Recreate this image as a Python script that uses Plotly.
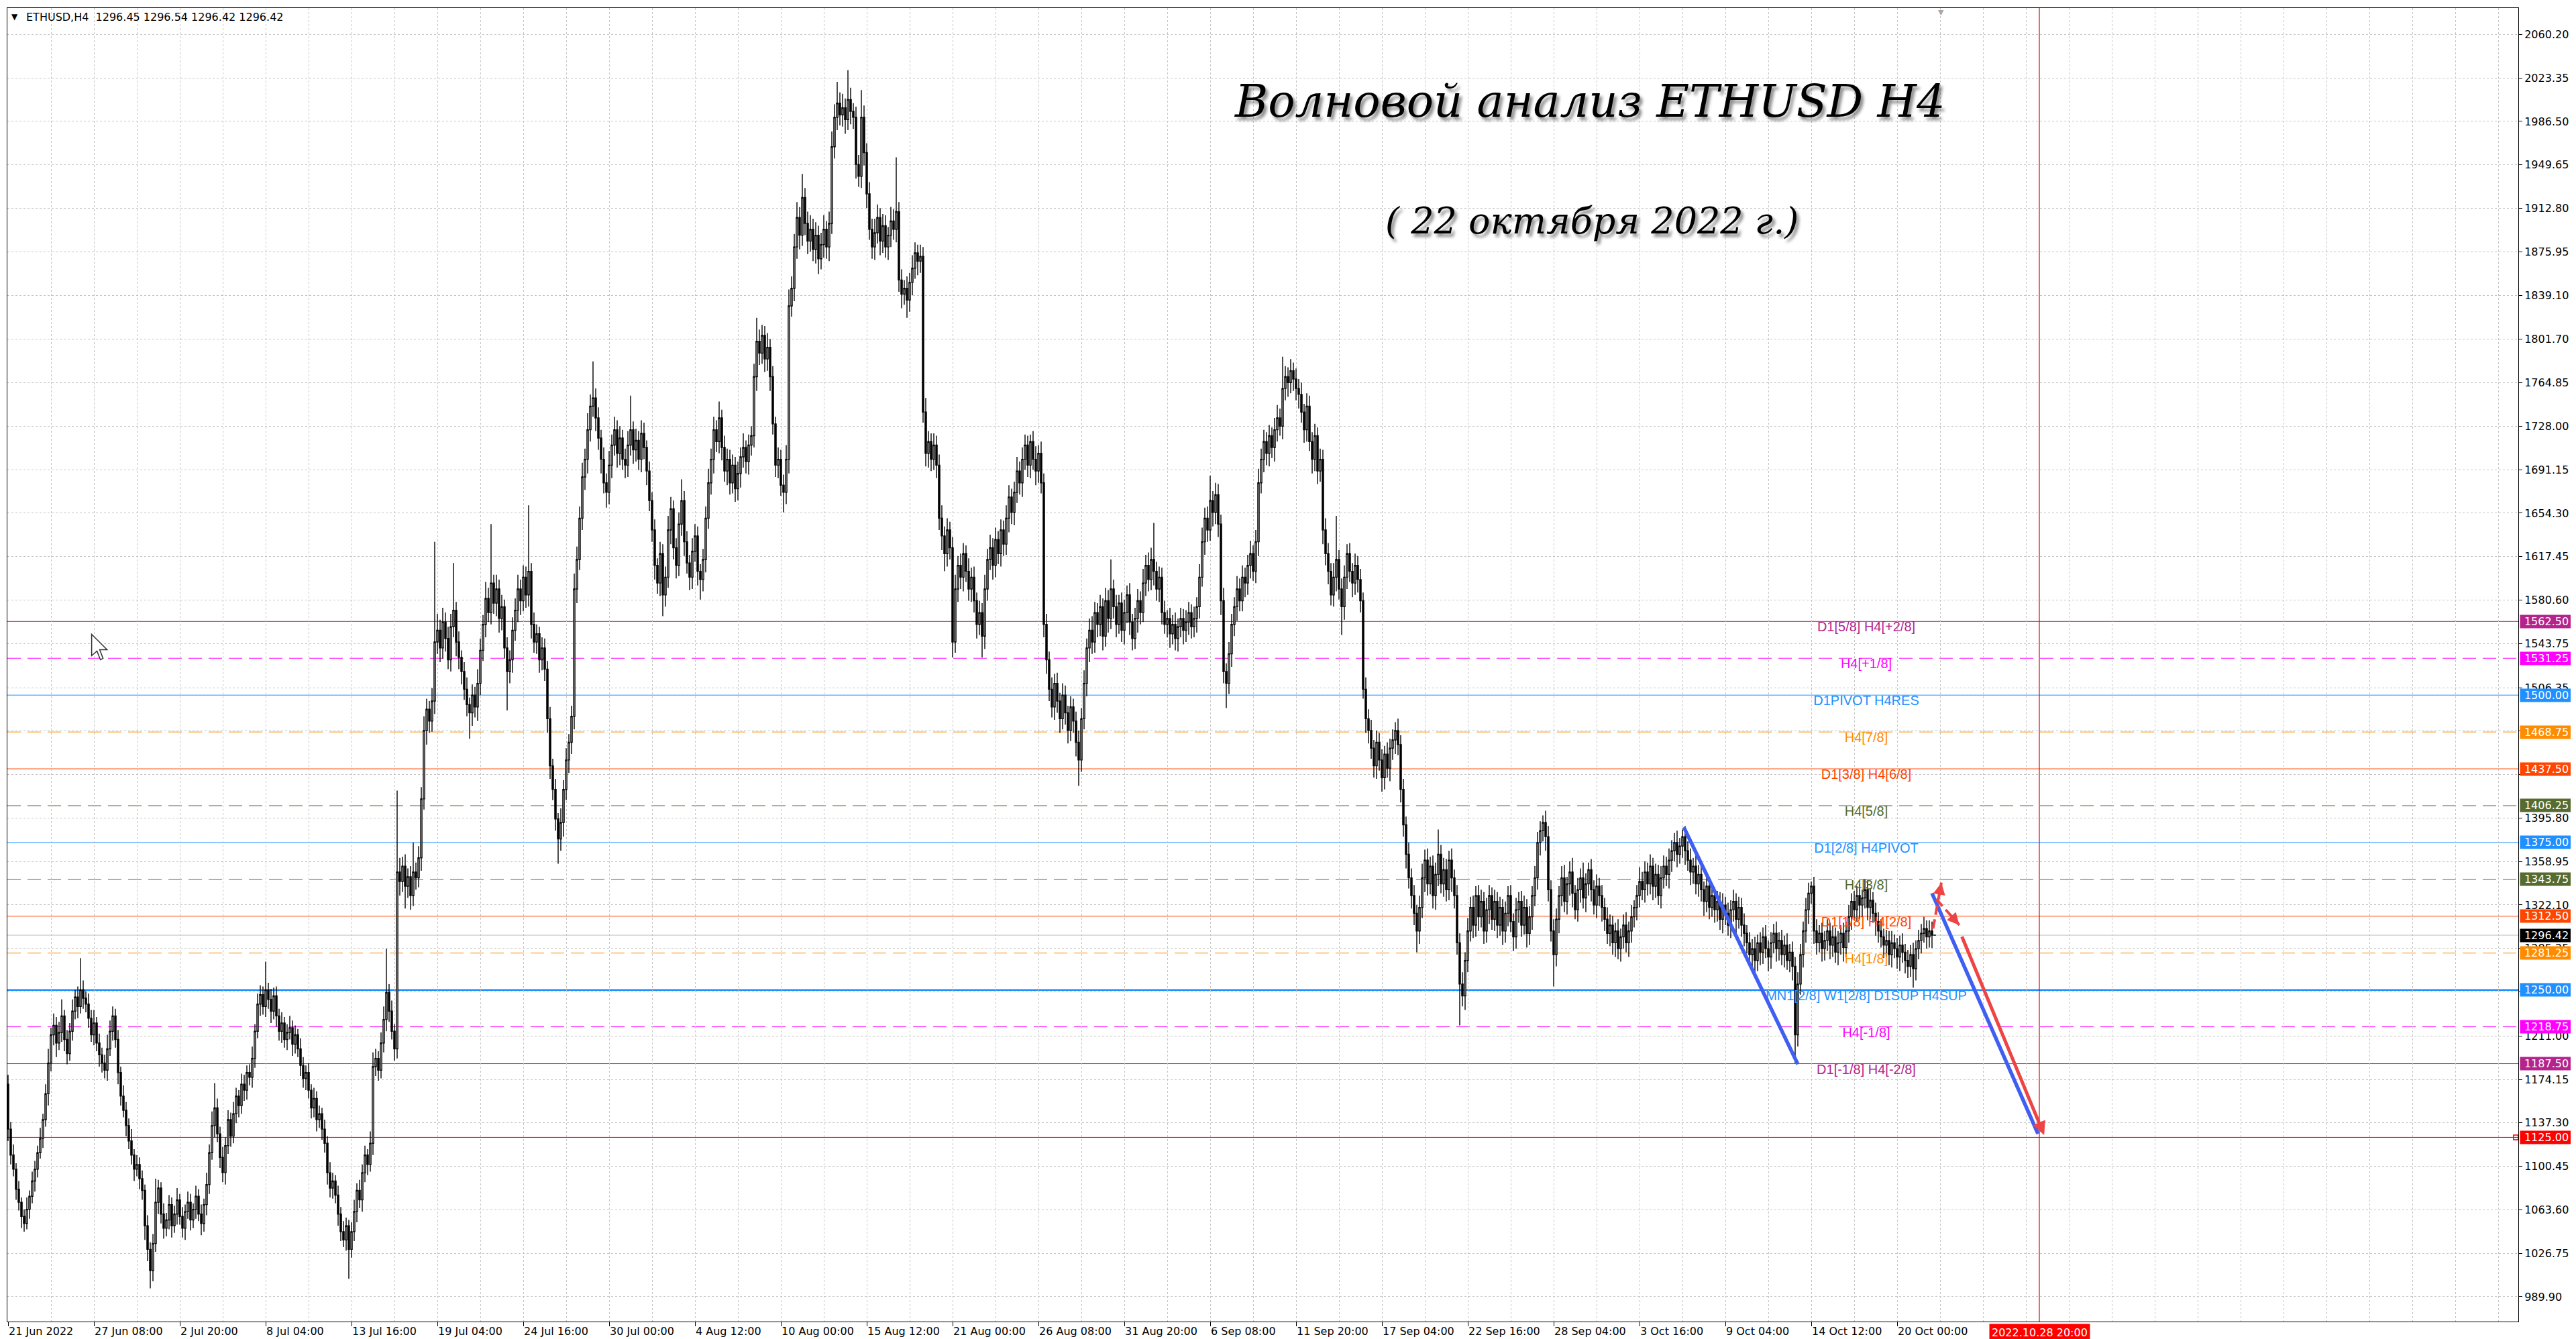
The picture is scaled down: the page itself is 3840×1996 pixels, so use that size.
import plotly.graph_objects as go

# ---------------- data ----------------
x_tick_labels = ["21 Jun 2022", "27 Jun 08:00", "2 Jul 20:00", "8 Jul 04:00", "13 Jul 16:00",
                 "19 Jul 04:00", "24 Jul 16:00", "30 Jul 00:00", "4 Aug 12:00", "10 Aug 00:00",
                 "15 Aug 12:00", "21 Aug 00:00", "26 Aug 08:00", "31 Aug 20:00", "6 Sep 08:00",
                 "11 Sep 20:00", "17 Sep 04:00", "22 Sep 16:00", "28 Sep 04:00", "3 Oct 16:00",
                 "9 Oct 04:00", "14 Oct 12:00", "20 Oct 00:00"]
bars_per_label = 32

y_tick_values = [2060.20, 2023.35, 1986.50, 1949.65, 1912.80, 1875.95, 1839.10, 1801.70,
                 1764.85, 1728.00, 1691.15, 1654.30, 1617.45, 1580.60, 1543.75, 1506.35,
                 1469.50, 1432.65, 1395.80, 1358.95, 1322.10, 1285.25, 1248.40, 1211.00,
                 1174.15, 1137.30, 1100.45, 1063.60, 1026.75, 989.90]
# tick labels fully covered by the level price boxes in the terminal
y_tick_hidden = [1432.65, 1248.40]

opens = [
    1170, 1132, 1110, 1098, 1081, 1070, 1058, 1052, 1064, 1075,
    1088, 1098, 1112, 1124, 1140, 1162, 1188, 1212, 1220, 1205,
    1214, 1228, 1208, 1196, 1215, 1232, 1244, 1236, 1250, 1243,
    1238, 1226, 1212, 1222, 1205, 1195, 1188, 1182, 1200, 1215,
    1228, 1208, 1180, 1160, 1148, 1135, 1122, 1110, 1098, 1102,
    1090, 1080, 1050, 1030, 1012, 1035, 1070, 1082, 1060, 1048,
    1055, 1068, 1050, 1060, 1072, 1058, 1048, 1062, 1070, 1055,
    1064, 1075, 1060, 1052, 1068, 1085, 1112, 1135, 1150, 1128,
    1108, 1095, 1118, 1140, 1126, 1145, 1160, 1152, 1170, 1165,
    1180, 1176, 1192, 1215, 1238, 1246, 1236, 1250, 1242, 1232,
    1245, 1228, 1215, 1222, 1208, 1214, 1218, 1204, 1212, 1200,
    1186, 1175, 1180, 1165, 1150, 1158, 1140, 1145, 1132, 1120,
    1095, 1082, 1088, 1076, 1060, 1045, 1038, 1050, 1030, 1045,
    1062, 1080, 1072, 1095, 1110, 1102, 1120, 1185, 1192, 1182,
    1205, 1225, 1248, 1232, 1215, 1200, 1350, 1342, 1355, 1338,
    1346, 1330, 1350, 1345, 1362, 1412, 1470, 1488, 1478, 1495,
    1545, 1555, 1540, 1562, 1548, 1530, 1558, 1572, 1545, 1532,
    1520, 1505, 1492, 1485, 1500, 1490, 1510, 1538, 1560, 1582,
    1570, 1595, 1578, 1590, 1565, 1575, 1540, 1520, 1530, 1555,
    1572, 1590, 1580, 1600, 1585, 1605, 1560, 1545, 1552, 1530,
    1540, 1522, 1480, 1440, 1420, 1395, 1378, 1392, 1420, 1445,
    1460, 1482, 1590, 1615, 1650, 1685, 1700, 1725, 1745, 1752,
    1735, 1718, 1700, 1680, 1672, 1695, 1712, 1725, 1705, 1718,
    1700, 1695, 1712, 1725, 1708, 1716, 1700, 1722, 1710, 1690,
    1665, 1640, 1610, 1595, 1620, 1585, 1600, 1640, 1658, 1625,
    1610, 1645, 1665, 1630, 1612, 1600, 1622, 1635, 1605, 1598,
    1615, 1650, 1680, 1700, 1725, 1715, 1735, 1710, 1690, 1700,
    1680, 1695, 1675, 1688, 1702, 1710, 1698, 1712, 1720, 1770,
    1800, 1790, 1805, 1785, 1795, 1770, 1730, 1695, 1700, 1678,
    1672, 1700, 1830, 1845, 1880, 1905, 1890, 1922, 1900, 1885,
    1895, 1878, 1890, 1870, 1882, 1895, 1880, 1900, 1965, 1990,
    2002, 1992, 1998, 1988, 2005, 1995, 1990, 1950, 1940, 1990,
    1960, 1925, 1895, 1880, 1892, 1905, 1885, 1898, 1880, 1890,
    1902, 1895, 1910, 1852, 1840, 1845, 1835, 1850, 1862, 1875,
    1868, 1872, 1740, 1705, 1715, 1700, 1712, 1695, 1650, 1635,
    1620, 1640, 1625, 1545, 1590, 1610, 1600, 1620, 1605, 1590,
    1600, 1580, 1560, 1570, 1550, 1590, 1615, 1625, 1610, 1632,
    1620, 1640, 1628, 1650, 1668, 1655, 1672, 1690, 1680, 1700,
    1712, 1695, 1715, 1700, 1690, 1705, 1680, 1560, 1530, 1505,
    1490, 1510, 1495, 1480, 1500, 1485, 1470, 1490, 1478, 1460,
    1445, 1480, 1510, 1540, 1555, 1545, 1570, 1560, 1575, 1550,
    1580, 1565, 1590, 1575, 1560, 1578, 1555, 1570, 1585, 1562,
    1548, 1565, 1580, 1570, 1595, 1610, 1598, 1615, 1605, 1590,
    1600, 1570, 1560, 1565, 1552, 1560, 1548, 1558, 1565, 1555,
    1562, 1570, 1558, 1565, 1575, 1600, 1630, 1650, 1640, 1665,
    1655, 1670, 1645, 1580, 1520, 1510, 1535, 1560, 1575, 1590,
    1580, 1600, 1595, 1610, 1620, 1605, 1630, 1680, 1700, 1715,
    1705, 1720, 1710, 1725, 1735, 1728, 1760, 1770, 1765, 1775,
    1768, 1760, 1755, 1740, 1725, 1745, 1715, 1700, 1720, 1690,
    1700, 1640, 1620, 1605, 1585, 1600, 1615, 1590, 1575, 1600,
    1620, 1605, 1595, 1610, 1598, 1580, 1505, 1480, 1470, 1455,
    1440, 1460, 1445, 1430, 1450, 1438, 1455, 1462, 1470, 1458,
    1420, 1390, 1365, 1345, 1330, 1315, 1300, 1320, 1345, 1360,
    1340, 1355, 1330, 1348, 1365, 1340, 1352, 1335, 1360, 1345,
    1330, 1290, 1255, 1245, 1275, 1300, 1320, 1305, 1330, 1312,
    1325, 1300, 1318, 1330, 1310, 1325, 1305, 1320, 1300, 1315,
    1330, 1308, 1295, 1318, 1325, 1305, 1320, 1298, 1312, 1330,
    1345, 1375, 1385, 1392, 1380, 1335, 1300, 1280, 1310, 1330,
    1345, 1325, 1340, 1350, 1332, 1318, 1335, 1345, 1328, 1340,
    1352, 1335, 1322, 1338, 1330, 1320, 1310, 1298, 1305, 1290,
    1300, 1285, 1295, 1305, 1290, 1300, 1312, 1320, 1330, 1342,
    1335, 1350, 1340, 1355, 1338, 1348, 1330, 1345, 1355, 1348,
    1360, 1368, 1375, 1365, 1372, 1380, 1368, 1360, 1350, 1355,
    1340, 1348, 1335, 1325, 1338, 1320, 1330, 1318, 1325, 1310,
    1322, 1315, 1305, 1318, 1325, 1310, 1320, 1305, 1298, 1290,
    1280, 1285, 1275, 1290, 1282, 1295, 1285, 1278, 1290, 1298,
    1285, 1292, 1280, 1288, 1275, 1282, 1270, 1212, 1255, 1280,
    1300, 1318, 1332, 1338, 1300, 1290, 1298, 1285, 1292, 1300,
    1288, 1295, 1282, 1290, 1298, 1286, 1300, 1312, 1325, 1318,
    1330, 1322, 1328, 1335, 1320, 1326, 1315, 1308, 1300, 1295,
    1288, 1292, 1280, 1290, 1285, 1278, 1288, 1282, 1275, 1270,
    1280, 1268, 1285, 1292, 1298, 1302, 1295, 1300, 1296.45,
]

closes = [
    1132, 1110, 1098, 1081, 1070, 1058, 1052, 1064, 1075, 1088,
    1098, 1112, 1124, 1140, 1162, 1188, 1212, 1220, 1205, 1214,
    1228, 1208, 1196, 1215, 1232, 1244, 1236, 1250, 1243, 1238,
    1226, 1212, 1222, 1205, 1195, 1188, 1182, 1200, 1215, 1228,
    1208, 1180, 1160, 1148, 1135, 1122, 1110, 1098, 1102, 1090,
    1080, 1050, 1030, 1012, 1035, 1070, 1082, 1060, 1048, 1055,
    1068, 1050, 1060, 1072, 1058, 1048, 1062, 1070, 1055, 1064,
    1075, 1060, 1052, 1068, 1085, 1112, 1135, 1150, 1128, 1108,
    1095, 1118, 1140, 1126, 1145, 1160, 1152, 1170, 1165, 1180,
    1176, 1192, 1215, 1238, 1246, 1236, 1250, 1242, 1232, 1245,
    1228, 1215, 1222, 1208, 1214, 1218, 1204, 1212, 1200, 1186,
    1175, 1180, 1165, 1150, 1158, 1140, 1145, 1132, 1120, 1095,
    1082, 1088, 1076, 1060, 1045, 1038, 1050, 1030, 1045, 1062,
    1080, 1072, 1095, 1110, 1102, 1120, 1185, 1192, 1182, 1205,
    1225, 1248, 1232, 1215, 1200, 1350, 1342, 1355, 1338, 1346,
    1330, 1350, 1345, 1362, 1412, 1470, 1488, 1478, 1495, 1545,
    1555, 1540, 1562, 1548, 1530, 1558, 1572, 1545, 1532, 1520,
    1505, 1492, 1485, 1500, 1490, 1510, 1538, 1560, 1582, 1570,
    1595, 1578, 1590, 1565, 1575, 1540, 1520, 1530, 1555, 1572,
    1590, 1580, 1600, 1585, 1605, 1560, 1545, 1552, 1530, 1540,
    1522, 1480, 1440, 1420, 1395, 1378, 1392, 1420, 1445, 1460,
    1482, 1590, 1615, 1650, 1685, 1700, 1725, 1745, 1752, 1735,
    1718, 1700, 1680, 1672, 1695, 1712, 1725, 1705, 1718, 1700,
    1695, 1712, 1725, 1708, 1716, 1700, 1722, 1710, 1690, 1665,
    1640, 1610, 1595, 1620, 1585, 1600, 1640, 1658, 1625, 1610,
    1645, 1665, 1630, 1612, 1600, 1622, 1635, 1605, 1598, 1615,
    1650, 1680, 1700, 1725, 1715, 1735, 1710, 1690, 1700, 1680,
    1695, 1675, 1688, 1702, 1710, 1698, 1712, 1720, 1770, 1800,
    1790, 1805, 1785, 1795, 1770, 1730, 1695, 1700, 1678, 1672,
    1700, 1830, 1845, 1880, 1905, 1890, 1922, 1900, 1885, 1895,
    1878, 1890, 1870, 1882, 1895, 1880, 1900, 1965, 1990, 2002,
    1992, 1998, 1988, 2005, 1995, 1990, 1950, 1940, 1990, 1960,
    1925, 1895, 1880, 1892, 1905, 1885, 1898, 1880, 1890, 1902,
    1895, 1910, 1852, 1840, 1845, 1835, 1850, 1862, 1875, 1868,
    1872, 1740, 1705, 1715, 1700, 1712, 1695, 1650, 1635, 1620,
    1640, 1625, 1545, 1590, 1610, 1600, 1620, 1605, 1590, 1600,
    1580, 1560, 1570, 1550, 1590, 1615, 1625, 1610, 1632, 1620,
    1640, 1628, 1650, 1668, 1655, 1672, 1690, 1680, 1700, 1712,
    1695, 1715, 1700, 1690, 1705, 1680, 1560, 1530, 1505, 1490,
    1510, 1495, 1480, 1500, 1485, 1470, 1490, 1478, 1460, 1445,
    1480, 1510, 1540, 1555, 1545, 1570, 1560, 1575, 1550, 1580,
    1565, 1590, 1575, 1560, 1578, 1555, 1570, 1585, 1562, 1548,
    1565, 1580, 1570, 1595, 1610, 1598, 1615, 1605, 1590, 1600,
    1570, 1560, 1565, 1552, 1560, 1548, 1558, 1565, 1555, 1562,
    1570, 1558, 1565, 1575, 1600, 1630, 1650, 1640, 1665, 1655,
    1670, 1645, 1580, 1520, 1510, 1535, 1560, 1575, 1590, 1580,
    1600, 1595, 1610, 1620, 1605, 1630, 1680, 1700, 1715, 1705,
    1720, 1710, 1725, 1735, 1728, 1760, 1770, 1765, 1775, 1768,
    1760, 1755, 1740, 1725, 1745, 1715, 1700, 1720, 1690, 1700,
    1640, 1620, 1605, 1585, 1600, 1615, 1590, 1575, 1600, 1620,
    1605, 1595, 1610, 1598, 1580, 1505, 1480, 1470, 1455, 1440,
    1460, 1445, 1430, 1450, 1438, 1455, 1462, 1470, 1458, 1420,
    1390, 1365, 1345, 1330, 1315, 1300, 1320, 1345, 1360, 1340,
    1355, 1330, 1348, 1365, 1340, 1352, 1335, 1360, 1345, 1330,
    1290, 1255, 1245, 1275, 1300, 1320, 1305, 1330, 1312, 1325,
    1300, 1318, 1330, 1310, 1325, 1305, 1320, 1300, 1315, 1330,
    1308, 1295, 1318, 1325, 1305, 1320, 1298, 1312, 1330, 1345,
    1375, 1385, 1392, 1380, 1335, 1300, 1280, 1310, 1330, 1345,
    1325, 1340, 1350, 1332, 1318, 1335, 1345, 1328, 1340, 1352,
    1335, 1322, 1338, 1330, 1320, 1310, 1298, 1305, 1290, 1300,
    1285, 1295, 1305, 1290, 1300, 1312, 1320, 1330, 1342, 1335,
    1350, 1340, 1355, 1338, 1348, 1330, 1345, 1355, 1348, 1360,
    1368, 1375, 1365, 1372, 1380, 1368, 1360, 1350, 1355, 1340,
    1348, 1335, 1325, 1338, 1320, 1330, 1318, 1325, 1310, 1322,
    1315, 1305, 1318, 1325, 1310, 1320, 1305, 1298, 1290, 1280,
    1285, 1275, 1290, 1282, 1295, 1285, 1278, 1290, 1298, 1285,
    1292, 1280, 1288, 1275, 1282, 1270, 1212, 1255, 1280, 1300,
    1318, 1332, 1338, 1300, 1290, 1298, 1285, 1292, 1300, 1288,
    1295, 1282, 1290, 1298, 1286, 1300, 1312, 1325, 1318, 1330,
    1322, 1328, 1335, 1320, 1326, 1315, 1308, 1300, 1295, 1288,
    1292, 1280, 1290, 1285, 1278, 1288, 1282, 1275, 1270, 1280,
    1268, 1285, 1292, 1298, 1302, 1295, 1300, 1296.45, 1296.42,
]

# wick lengths above the body / below the body (price units)
upper_wicks = [
    8, 6, 9, 5, 7, 4, 6, 10, 5, 8,
    7, 6, 9, 5, 8, 12, 6, 10, 7, 9,
    14, 5, 8, 7, 10, 6, 9, 27, 8, 6,
    9, 7, 11, 5, 8, 6, 7, 12, 9, 8,
    6, 8, 5, 9, 7, 6, 10, 5, 8, 6,
    7, 5, 9, 6, 8, 20, 7, 5, 9, 6,
    8, 6, 7, 10, 5, 8, 6, 9, 7, 5,
    9, 6, 8, 5, 10, 7, 12, 21, 8, 6,
    9, 7, 8, 6, 10, 7, 5, 9, 8, 6,
    7, 10, 6, 9, 8, 7, 24, 6, 9, 7,
    8, 6, 9, 5, 7, 10, 6, 8, 5, 9,
    7, 6, 8, 5, 9, 6, 7, 5, 8, 6,
    9, 7, 5, 8, 6, 9, 7, 5, 8, 10,
    6, 9, 7, 8, 5, 10, 12, 8, 6, 9,
    11, 37, 7, 9, 6, 69, 12, 8, 10, 7,
    9, 25, 8, 10, 10, 12, 9, 7, 11, 85,
    14, 9, 12, 8, 10, 11, 40, 7, 9, 6,
    8, 10, 6, 9, 7, 12, 10, 8, 14, 9,
    50, 7, 12, 8, 10, 6, 9, 8, 11, 10,
    12, 8, 10, 9, 56, 7, 10, 8, 6, 9,
    8, 7, 10, 6, 9, 5, 12, 8, 10, 7,
    9, 13, 11, 10, 12, 9, 14, 10, 31, 8,
    9, 7, 10, 8, 12, 9, 11, 8, 10, 7,
    9, 12, 29, 7, 10, 8, 11, 9, 6, 8,
    7, 9, 6, 10, 8, 9, 12, 10, 7, 8,
    10, 18, 8, 9, 7, 11, 10, 8, 6, 9,
    10, 12, 9, 11, 8, 14, 7, 10, 9, 8,
    9, 7, 10, 8, 12, 6, 9, 8, 11, 20,
    10, 9, 8, 12, 7, 9, 6, 10, 8, 9,
    12, 14, 10, 11, 13, 9, 20, 8, 10, 12,
    9, 11, 8, 10, 12, 7, 10, 13, 11, 18,
    9, 12, 8, 25, 10, 7, 9, 8, 23, 10,
    8, 10, 9, 12, 11, 8, 10, 9, 7, 12,
    10, 46, 8, 9, 7, 10, 8, 11, 9, 7,
    10, 8, 12, 9, 7, 10, 8, 9, 11, 8,
    10, 7, 9, 12, 8, 10, 9, 7, 11, 8,
    9, 7, 10, 8, 12, 9, 11, 8, 10, 7,
    9, 8, 11, 10, 7, 9, 12, 8, 10, 9,
    8, 6, 9, 11, 7, 10, 8, 9, 7, 10,
    8, 9, 7, 10, 8, 6, 9, 7, 8, 10,
    9, 11, 8, 10, 12, 9, 8, 10, 7, 11,
    9, 25, 8, 10, 7, 9, 11, 8, 10, 7,
    9, 10, 8, 12, 9, 11, 10, 31, 8, 9,
    8, 10, 7, 9, 8, 10, 7, 9, 8, 10,
    9, 7, 10, 8, 11, 12, 9, 10, 21, 8,
    10, 9, 8, 11, 7, 10, 9, 8, 11, 9,
    10, 8, 9, 11, 7, 10, 12, 9, 10, 8,
    9, 7, 10, 11, 8, 27, 9, 8, 10, 7,
    9, 8, 10, 7, 11, 9, 8, 10, 7, 9,
    8, 10, 9, 7, 12, 37, 8, 9, 10, 8,
    9, 7, 10, 8, 9, 7, 10, 8, 9, 7,
    10, 8, 9, 7, 10, 8, 9, 7, 10, 8,
    9, 7, 10, 8, 9, 7, 10, 12, 9, 10,
    8, 9, 10, 21, 8, 10, 9, 8, 10, 7,
    9, 8, 10, 7, 11, 9, 10, 8, 9, 10,
    8, 10, 9, 7, 10, 8, 9, 7, 10, 8,
    9, 7, 10, 8, 9, 10, 7, 9, 8, 10,
    9, 8, 6, 10, 9, 8, 10, 9, 8, 10,
    11, 6, 9, 12, 7, 10, 8, 13, 9, 6,
    9, 8, 10, 7, 9, 8, 10, 9, 8, 7,
    10, 7, 9, 11, 8, 10, 6, 9, 12, 8,
    9, 8, 10, 7, 9, 8, 10, 9, 8, 10,
    9, 8, 10, 7, 6, 9, 8, 10, 7, 9,
    8, 10, 7, 9, 8, 10, 7, 9, 8, 10,
    7, 9, 8, 10, 7, 9, 8, 10, 7, 9,
    8, 10, 7, 9, 8, 10, 7, 9, 8, 10,
    7, 9, 8, 10, 7, 9, 8, 10, 9, 8,
    10, 9, 4, 8, 10, 7, 9, 8, 10, 7,
    9, 8, 10, 7, 9, 8, 10, 7, 9, 8,
    10, 7, 9, 8, 10, 7, 9, 8, 10, 7,
    9, 8, 10, 7, 9, 8, 10, 7, 9, 8,
    10, 7, 9, 8, 10, 7, 9, 8, 0.09,
]

lower_wicks = [
    10, 8, 6, 9, 7, 10, 7, 5, 8, 6,
    9, 7, 5, 8, 6, 10, 7, 9, 12, 6,
    8, 10, 9, 6, 8, 7, 10, 6, 9, 7,
    8, 6, 9, 7, 10, 8, 7, 9, 6, 8,
    7, 10, 8, 6, 9, 7, 8, 10, 6, 9,
    8, 12, 10, 15, 9, 7, 10, 8, 9, 7,
    8, 10, 6, 9, 7, 8, 10, 6, 9, 7,
    8, 6, 10, 7, 9, 8, 6, 10, 7, 9,
    8, 10, 7, 9, 6, 8, 10, 7, 9, 8,
    7, 9, 8, 6, 10, 7, 9, 8, 10, 7,
    9, 8, 10, 7, 9, 6, 10, 8, 7, 9,
    8, 10, 7, 9, 8, 10, 7, 9, 8, 10,
    8, 9, 7, 10, 8, 6, 9, 25, 7, 8,
    9, 7, 10, 8, 9, 6, 10, 8, 9, 7,
    8, 10, 9, 7, 10, 8, 12, 9, 19, 10,
    12, 9, 10, 8, 11, 9, 12, 10, 9, 11,
    10, 12, 9, 11, 8, 10, 9, 12, 10, 11,
    9, 10, 22, 11, 9, 12, 10, 9, 11, 8,
    10, 9, 11, 12, 10, 9, 33, 10, 11, 9,
    10, 12, 9, 11, 10, 12, 9, 10, 11, 9,
    10, 12, 11, 9, 10, 21, 10, 12, 9, 11,
    10, 11, 12, 9, 10, 11, 12, 10, 9, 11,
    10, 12, 9, 13, 10, 11, 9, 12, 10, 9,
    11, 10, 9, 12, 10, 9, 11, 10, 12, 9,
    10, 12, 9, 11, 18, 10, 9, 12, 10, 11,
    9, 10, 12, 9, 11, 10, 9, 12, 17, 10,
    11, 9, 10, 12, 9, 10, 11, 9, 12, 10,
    9, 11, 10, 12, 9, 10, 11, 9, 10, 12,
    10, 9, 11, 10, 12, 9, 10, 11, 9, 17,
    10, 12, 9, 11, 10, 12, 9, 10, 11, 9,
    10, 12, 13, 9, 11, 10, 12, 9, 10, 11,
    9, 10, 12, 9, 11, 10, 12, 9, 10, 11,
    12, 9, 10, 11, 9, 12, 10, 9, 11, 10,
    9, 11, 10, 12, 9, 15, 10, 11, 9, 12,
    10, 9, 11, 12, 10, 9, 11, 10, 12, 15,
    11, 10, 13, 9, 11, 10, 12, 9, 10, 11,
    10, 12, 9, 18, 11, 10, 9, 12, 10, 9,
    11, 10, 9, 12, 10, 11, 9, 10, 12, 9,
    10, 11, 9, 12, 10, 9, 11, 12, 10, 9,
    11, 10, 12, 9, 10, 11, 9, 10, 12, 22,
    10, 9, 11, 12, 10, 9, 11, 10, 12, 9,
    12, 9, 10, 11, 8, 10, 12, 9, 11, 10,
    9, 12, 10, 8, 11, 10, 9, 12, 10, 11,
    10, 8, 11, 12, 9, 10, 11, 9, 12, 10,
    11, 10, 9, 12, 10, 8, 11, 10, 9, 12,
    10, 11, 12, 10, 21, 9, 11, 10, 12, 9,
    9, 12, 10, 11, 8, 10, 12, 9, 11, 10,
    11, 9, 12, 10, 8, 11, 10, 12, 9, 10,
    10, 12, 9, 11, 10, 8, 12, 10, 11, 9,
    12, 10, 11, 9, 10, 12, 9, 24, 11, 10,
    9, 12, 10, 11, 10, 8, 12, 11, 9, 10,
    11, 9, 12, 10, 8, 11, 10, 12, 9, 11,
    10, 12, 9, 11, 10, 18, 11, 9, 12, 10,
    9, 11, 12, 10, 8, 11, 10, 9, 12, 11,
    10, 35, 9, 12, 10, 9, 11, 10, 12, 9,
    11, 10, 12, 9, 10, 11, 9, 12, 10, 11,
    9, 12, 10, 11, 10, 8, 12, 10, 11, 9,
    10, 11, 9, 12, 10, 9, 27, 10, 12, 9,
    9, 11, 10, 12, 8, 10, 11, 9, 12, 10,
    10, 8, 11, 9, 12, 10, 9, 11, 10, 12,
    9, 11, 10, 8, 12, 10, 9, 11, 10, 9,
    11, 10, 9, 12, 10, 8, 11, 9, 10, 12,
    10, 9, 11, 8, 10, 12, 9, 11, 10, 9,
    11, 10, 12, 9, 10, 8, 11, 10, 9, 12,
    10, 9, 11, 10, 12, 8, 10, 11, 9, 10,
    12, 10, 9, 11, 10, 8, 12, 10, 9, 11,
    10, 9, 11, 8, 10, 12, 24, 10, 9, 11,
    10, 12, 9, 11, 10, 8, 11, 10, 9, 12,
    10, 9, 11, 10, 12, 8, 10, 11, 9, 10,
    12, 10, 9, 11, 10, 8, 12, 10, 9, 11,
    10, 9, 11, 8, 10, 12, 9, 11, 10, 9,
    16, 10, 9, 11, 8, 10, 9, 11, 0,
]

header_symbol = "ETHUSD,H4"
header_ohlc = "1296.45 1296.54 1296.42 1296.42"

murrey_levels = [1562.50, 1531.25, 1500.00, 1468.75, 1437.50, 1406.25, 1375.00,
                 1343.75, 1312.50, 1281.25, 1250.00, 1218.75, 1187.50]
murrey_names = ["D1[5/8] H4[+2/8]", "H4[+1/8]", "D1PIVOT H4RES", "H4[7/8]",
                "D1[3/8] H4[6/8]", "H4[5/8]", "D1[2/8] H4PIVOT", "H4[3/8]",
                "D1[1/8] H4[2/8]", "H4[1/8]", "MN1[2/8] W1[2/8] D1SUP H4SUP",
                "H4[-1/8]", "D1[-1/8] H4[-2/8]"]
target_level = 1125.00
current_price = 1296.42

# wave markup (bar index, price)
wave1_x, wave1_y = [624.5, 667.0], [1388.0, 1187.0]
wave2_x, wave2_y = [717.0, 756.5], [1332.0, 1128.0]
forecast_x, forecast_y = [728.0, 758.8], [1296.0, 1127.0]
corr_up_x, corr_up_y = [717.4, 720.5], [1302.0, 1341.0]
corr_dn_x, corr_dn_y = [718.6, 727.2], [1327.0, 1305.0]
vline_bar = 757
vline_label = "2022.10.28 20:00"

title_text = "Волновой анализ ETHUSD H4"
subtitle_text = "( 22 октября 2022 г.)"

# ---------------- styling ----------------
W, H = 3840, 1996
ML, MR, MT, MB = 3, 94, 4, 34
X_RANGE = [-0.25, 935.5]
Y_RANGE = [968.8, 2082.6]
LABEL_X = 692.5
AX_FONT = dict(family="DejaVu Sans", size=16, color="black")
GRID = dict(gridcolor="#C4C4C4", griddash="3px,3px", gridwidth=1)

PURPLE, MAGENTA, BLUE = "#B5248D", "#FF00FF", "#1E90FF"
ORANGE, ORED, OLIVE = "#FF8C00", "#FF4500", "#556B2F"
murrey_colors = [PURPLE, MAGENTA, BLUE, ORANGE, ORED, OLIVE, BLUE,
                 OLIVE, ORED, ORANGE, BLUE, MAGENTA, PURPLE]
murrey_dash = ["solid", "20px,10px", "solid", "20px,10px", "solid", "20px,10px", "solid",
               "20px,10px", "solid", "20px,10px", "solid", "20px,10px", "solid"]
murrey_width = [1, 1, 1, 1, 1, 1, 1, 1, 1, 1, 2.5, 1, 1]

n = min(len(opens), len(closes), len(upper_wicks), len(lower_wicks))
opens, closes = opens[:n], closes[:n]
bars = list(range(n))
highs = [max(o, c) + w for o, c, w in zip(opens, closes, upper_wicks[:n])]
lows = [min(o, c) - w for o, c, w in zip(opens, closes, lower_wicks[:n])]

fig = go.Figure()

# level captions (drawn under the candles, as in the terminal)
fig.add_trace(go.Scatter(
    x=[LABEL_X] * len(murrey_levels), y=murrey_levels, mode="text",
    text=murrey_names, textposition="bottom center",
    textfont=dict(family="Liberation Sans, Arial", size=20, color=murrey_colors),
    showlegend=False, hoverinfo="skip", cliponaxis=False))

fig.add_trace(go.Scatter(
    x=[X_RANGE[1] - 0.9], y=[target_level], mode="markers",
    marker=dict(symbol="square-open", size=7, color="#E00000", line=dict(width=1.5)),
    showlegend=False, hoverinfo="skip", cliponaxis=False))

fig.add_trace(go.Candlestick(
    x=bars, open=opens, high=highs, low=lows, close=closes,
    increasing=dict(line=dict(color="black", width=1.4), fillcolor="white"),
    decreasing=dict(line=dict(color="black", width=1.4), fillcolor="black"),
    whiskerwidth=0, showlegend=False, hoverinfo="skip"))

shapes = []
for lvl, col, dsh, wd in zip(murrey_levels, murrey_colors, murrey_dash, murrey_width):
    shapes.append(dict(type="line", xref="paper", x0=0, x1=1, yref="y", y0=lvl, y1=lvl,
                       line=dict(color=col, width=wd, dash=dsh), layer="below"))
shapes.append(dict(type="line", xref="paper", x0=0, x1=1, yref="y", y0=target_level,
                   y1=target_level, line=dict(color="#E00000", width=1), layer="below"))
shapes.append(dict(type="line", xref="paper", x0=0, x1=1, yref="y", y0=current_price,
                   y1=current_price, line=dict(color="#BEBEBE", width=1), layer="below"))
shapes.append(dict(type="line", xref="x", x0=vline_bar, x1=vline_bar, yref="paper", y0=0, y1=1,
                   line=dict(color="#C81010", width=1.2), layer="below"))
for xs, ys in [(wave1_x, wave1_y), (wave2_x, wave2_y)]:
    shapes.append(dict(type="line", xref="x", yref="y", x0=xs[0], y0=ys[0], x1=xs[1], y1=ys[1],
                       line=dict(color="#3F5EF2", width=5.5), layer="above"))
for xs, ys in [(corr_up_x, corr_up_y), (corr_dn_x, corr_dn_y)]:
    shapes.append(dict(type="line", xref="x", yref="y", x0=xs[0], y0=ys[0], x1=xs[1], y1=ys[1],
                       line=dict(color="#EE4444", width=4, dash="14px,7px"), layer="above"))
# mouse pointer left on the chart
shapes.append(dict(type="path", xref="x", yref="y", xsizemode="pixel", ysizemode="pixel",
                   xanchor=31.15, yanchor=1551.6,
                   path="M0,0 L0,-32 L8,-25 L13,-38 L17,-36 L12,-23 L23,-23 Z",
                   fillcolor="white", line=dict(color="#303030", width=1.5), layer="above"))

annotations = []
# price boxes on the right axis
box_vals = murrey_levels + [target_level, current_price]
box_cols = murrey_colors + ["#FF0000", "#000000"]
for v, c in zip(box_vals, box_cols):
    annotations.append(dict(xref="paper", x=1, xanchor="left", xshift=2, yref="y", y=v,
                            yanchor="middle", text=f"{v:.2f}", showarrow=False,
                            bgcolor=c, width=76, height=17, borderpad=1,
                            font=dict(family="DejaVu Sans", size=16, color="white")))
# time box of the vertical line
annotations.append(dict(xref="x", x=vline_bar, yref="paper", y=0, yanchor="top", yshift=-3,
                        text=vline_label, showarrow=False, bgcolor="#FF0000", borderpad=3,
                        font=dict(family="DejaVu Sans", size=16, color="white")))
# header
annotations.append(dict(xref="paper", x=0, xanchor="left", xshift=4, yref="paper", y=1,
                        yanchor="middle", yshift=-13, text="▼", showarrow=False,
                        font=dict(family="DejaVu Sans", size=12, color="black")))
annotations.append(dict(xref="paper", x=0, xanchor="left", xshift=26, yref="paper", y=1,
                        yanchor="middle", yshift=-13,
                        text=header_symbol + "\u00a0\u00a0" + header_ohlc, showarrow=False,
                        font=dict(family="DejaVu Sans", size=16, color="black")))
# chart shift marker
annotations.append(dict(xref="x", x=720.25, yref="paper", y=1, yanchor="top", yshift=2,
                        text="▼", showarrow=False,
                        font=dict(family="DejaVu Sans", size=11, color="#A8A8A8")))
# titles
shadow = "4px 5px 4px rgba(0,0,0,0.45)"
annotations.append(dict(xref="paper", x=0.6300, yref="paper", y=0.929, xanchor="center",
                        yanchor="middle", text=title_text, showarrow=False,
                        font=dict(family="DejaVu Serif", size=67, color="black",
                                  style="italic", shadow=shadow)))
annotations.append(dict(xref="paper", x=0.6310, yref="paper", y=0.838, xanchor="center",
                        yanchor="middle", text=subtitle_text, showarrow=False,
                        font=dict(family="DejaVu Serif", size=54, color="black",
                                  style="italic", shadow=shadow)))
# forecast arrow (solid) and heads of the dashed correction arrows
annotations.append(dict(xref="x", yref="y", x=forecast_x[1], y=forecast_y[1],
                        axref="x", ayref="y", ax=forecast_x[0], ay=forecast_y[0], text="",
                        showarrow=True, arrowhead=2, arrowsize=0.8, arrowwidth=5,
                        arrowcolor="#EE4444", standoff=0))
for xs, ys in [(corr_up_x, corr_up_y), (corr_dn_x, corr_dn_y)]:
    annotations.append(dict(xref="x", yref="y", x=xs[1], y=ys[1], axref="x", ayref="y",
                            ax=xs[1] - (xs[1] - xs[0]) * 0.3, ay=ys[1] - (ys[1] - ys[0]) * 0.3,
                            text="", showarrow=True, arrowhead=2, arrowsize=0.9,
                            arrowwidth=4, arrowcolor="#EE4444", standoff=0))

fig.update_layout(
    width=W, height=H, margin=dict(l=ML, r=MR, t=MT, b=MB),
    paper_bgcolor="white", plot_bgcolor="white", boxgap=0.25,
    shapes=shapes, annotations=annotations, showlegend=False,
    xaxis=dict(range=X_RANGE, tickmode="array",
               tickvals=[k * bars_per_label for k in range(len(x_tick_labels))],
               ticktext=x_tick_labels, ticks="outside", ticklen=6, tickcolor="black",
               ticklabelposition="outside right", tickfont=AX_FONT,
               showgrid=True, **GRID,
               minor=dict(tickmode="linear", tick0=0, dtick=bars_per_label // 2,
                          showgrid=True, ticks="", **GRID),
               showline=True, linecolor="black", linewidth=1, mirror=True,
               zeroline=False, rangeslider=dict(visible=False), automargin=False),
    yaxis=dict(range=Y_RANGE, side="right", tickmode="array", tickvals=y_tick_values,
               ticktext=["" if v in y_tick_hidden else f"{v:.2f}" for v in y_tick_values],
               ticks="outside", ticklen=5,
               tickcolor="black", tickfont=AX_FONT, showgrid=True, **GRID,
               showline=True, linecolor="black", linewidth=1, mirror=True,
               zeroline=False, automargin=False),
)

fig.write_html("out.html")
